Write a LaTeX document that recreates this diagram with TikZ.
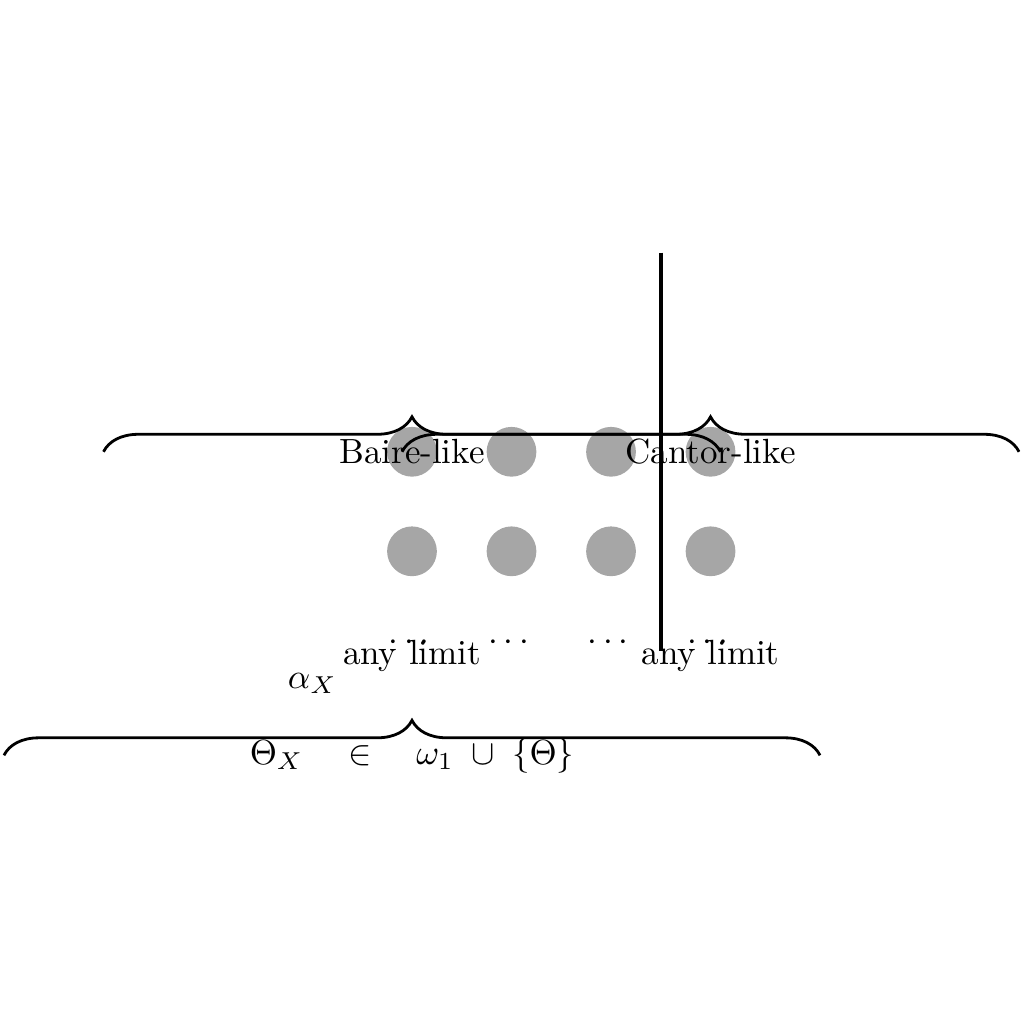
\documentclass[tikz,border=0pt]{standalone}
\usepackage{amsmath,amssymb}
\usepackage{xcolor}
\usepackage{tikz}
\usetikzlibrary{decorations.pathreplacing}

\begin{document}
\begin{tikzpicture}[
    pt/.style={circle, fill=gray!70, minimum size=0.5cm, inner sep=0pt},
    brace/.style={decorate, decoration={brace, amplitude=10pt}, thick},
    cut/.style={very thick},
]
\useasboundingbox (-4.14,-4.75) rectangle (6.15,5.54);

% Points - upper row
\node[pt] (t1) at (0, 1) {};
\node[pt] (t2) at (1, 1) {};
\node[pt] (t3) at (2, 1) {};
\node[pt] (t4) at (3, 1) {};

% Points - lower row
\node[pt] (m1) at (0, 0) {};
\node[pt] (m2) at (1, 0) {};
\node[pt] (m3) at (2, 0) {};
\node[pt] (m4) at (3, 0) {};

% Dots
\node (d1) at (0, -0.92) {$\cdots$};
\node (d2) at (1, -0.92) {$\cdots$};
\node (d3) at (2, -0.92) {$\cdots$};
\node (d4) at (3, -0.92) {$\cdots$};

\node (lim1) at (0, -1.05) {any limit};
\node (lim2) at (3, -1.05) {any limit};

\node (alpha) at (-1, -1.33) {$\alpha_X$};

% Dividing line
\coordinate (cuttop) at (2.5, 3);
\coordinate (cutbot) at (2.5, -1);
\draw[cut] (cuttop) -- (cutbot);

% Braces
\coordinate (bl) at (-3.1, 1);
\coordinate (br) at (3.1, 1);
\coordinate (cl) at (-0.1, 1);
\coordinate (cr) at (6.1, 1);
\coordinate (ol) at (-4.1, -2.05);
\coordinate (or) at (4.1, -2.05);

\draw[brace] (bl) -- (br) node[midway] (baire) {Baire-like};
\draw[brace] (cl) -- (cr) node[midway] (cantor) {Cantor-like};
\draw[brace] (ol) -- (or)
  node[midway] (theta) {$\Theta_X \quad\in\quad \omega_1 \;\cup\; \{\Theta\}$};

\end{tikzpicture}
\end{document}
